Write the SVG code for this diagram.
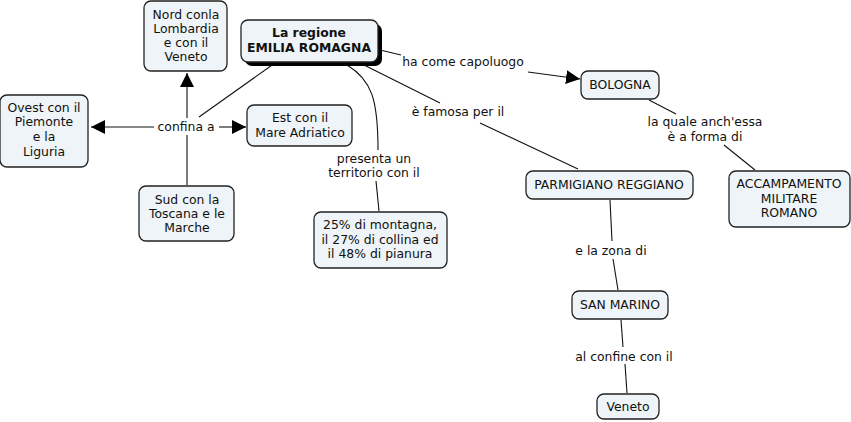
<svg xmlns="http://www.w3.org/2000/svg" width="851" height="422" viewBox="0 0 851 422">
<defs>
<style>
.n rect{fill:#eef4f7;stroke:#222;stroke-width:1.3}
.n rect.sh{fill:#000;stroke:none}
text{font-family:"DejaVu Sans","Verdana",sans-serif;font-size:12.4px;fill:#111;text-anchor:middle}
.b{font-weight:bold}
.c line,.c path{stroke:#111;stroke-width:1.1;fill:none}
</style>
<marker id="ah" viewBox="0 0 10 10" refX="10" refY="5" markerWidth="14" markerHeight="14" markerUnits="userSpaceOnUse" orient="auto">
<path d="M0,0 L10,5 L0,10 z" fill="#000"/>
</marker>
</defs>
<rect width="851" height="422" fill="#fff"/>
<g id="connectors" class="c">
<line x1="275" y1="63" x2="199" y2="117"/>
<line x1="187" y1="118" x2="187" y2="73" marker-end="url(#ah)"/>
<line x1="154" y1="127" x2="91" y2="127" marker-end="url(#ah)"/>
<line x1="219" y1="127" x2="246" y2="127" marker-end="url(#ah)"/>
<line x1="187" y1="185" x2="187" y2="135"/>
<line x1="380" y1="50" x2="401" y2="55"/>
<line x1="528" y1="72" x2="580" y2="79" marker-end="url(#ah)"/>
<line x1="358" y1="62" x2="440" y2="103"/>
<line x1="480" y1="123" x2="578" y2="169"/>
<path d="M347,65 C372,80 378,100 378,150"/>
<line x1="376" y1="181" x2="379" y2="211"/>
<line x1="649" y1="100" x2="676" y2="114"/>
<line x1="724" y1="145" x2="755" y2="170"/>
<line x1="610" y1="200" x2="612" y2="241"/>
<line x1="613" y1="259" x2="618" y2="290"/>
<line x1="621" y1="320" x2="623" y2="347"/>
<line x1="625" y1="364" x2="627" y2="393"/>
</g>
<g id="labels">
<text x="186" y="131">confina a</text>
<text x="463" y="66">ha come capoluogo</text>
<text x="458" y="116">è famosa per il</text>
<text x="374" y="163">presenta un</text>
<text x="374" y="177">territorio con il</text>
<text x="705" y="126">la quale anch'essa</text>
<text x="705" y="141">è a forma di</text>
<text x="611" y="255">e la zona di</text>
<text x="624" y="361">al confine con il</text>
</g>
<g id="emilia" class="n">
<rect class="sh" x="245" y="24" width="137" height="42" rx="7"/>
<rect x="241" y="20" width="137" height="42" rx="7"/>
<text class="b" x="309" y="37">La regione</text>
<text class="b" x="309" y="52">EMILIA ROMAGNA</text>
</g>
<g id="nord" class="n">
<rect x="144" y="1" width="83" height="70" rx="7"/>
<text x="186" y="19">Nord conla</text>
<text x="186" y="33">Lombardia</text>
<text x="186" y="47">e con il</text>
<text x="186" y="61">Veneto</text>
</g>
<g id="ovest" class="n">
<rect x="0" y="95" width="88" height="72" rx="7"/>
<text x="44" y="112">Ovest con il</text>
<text x="44" y="126">Piemonte</text>
<text x="44" y="141">e la</text>
<text x="44" y="156">Liguria</text>
</g>
<g id="est" class="n">
<rect x="247" y="105" width="105" height="41" rx="7"/>
<text x="300" y="122">Est con il</text>
<text x="300" y="137">Mare Adriatico</text>
</g>
<g id="sud" class="n">
<rect x="139" y="186" width="95" height="55" rx="7"/>
<text x="187" y="204">Sud con la</text>
<text x="187" y="218">Toscana e le</text>
<text x="187" y="232">Marche</text>
</g>
<g id="territorio" class="n">
<rect x="314" y="212" width="133" height="56" rx="7"/>
<text x="380" y="229">25% di montagna,</text>
<text x="380" y="244">il 27% di collina ed</text>
<text x="380" y="258">il 48% di pianura</text>
</g>
<g id="bologna" class="n">
<rect x="581" y="71" width="78" height="28" rx="7"/>
<text x="620" y="89">BOLOGNA</text>
</g>
<g id="parmigiano" class="n">
<rect x="526" y="171" width="167" height="28" rx="7"/>
<text x="609" y="189">PARMIGIANO REGGIANO</text>
</g>
<g id="accampamento" class="n">
<rect x="729" y="171" width="121" height="56" rx="7"/>
<text x="789" y="188">ACCAMPAMENTO</text>
<text x="789" y="203">MILITARE</text>
<text x="789" y="217">ROMANO</text>
</g>
<g id="sanmarino" class="n">
<rect x="572" y="291" width="96" height="28" rx="7"/>
<text x="620" y="309">SAN MARINO</text>
</g>
<g id="veneto" class="n">
<rect x="597" y="394" width="62" height="25" rx="7"/>
<text x="628" y="411">Veneto</text>
</g>
</svg>
